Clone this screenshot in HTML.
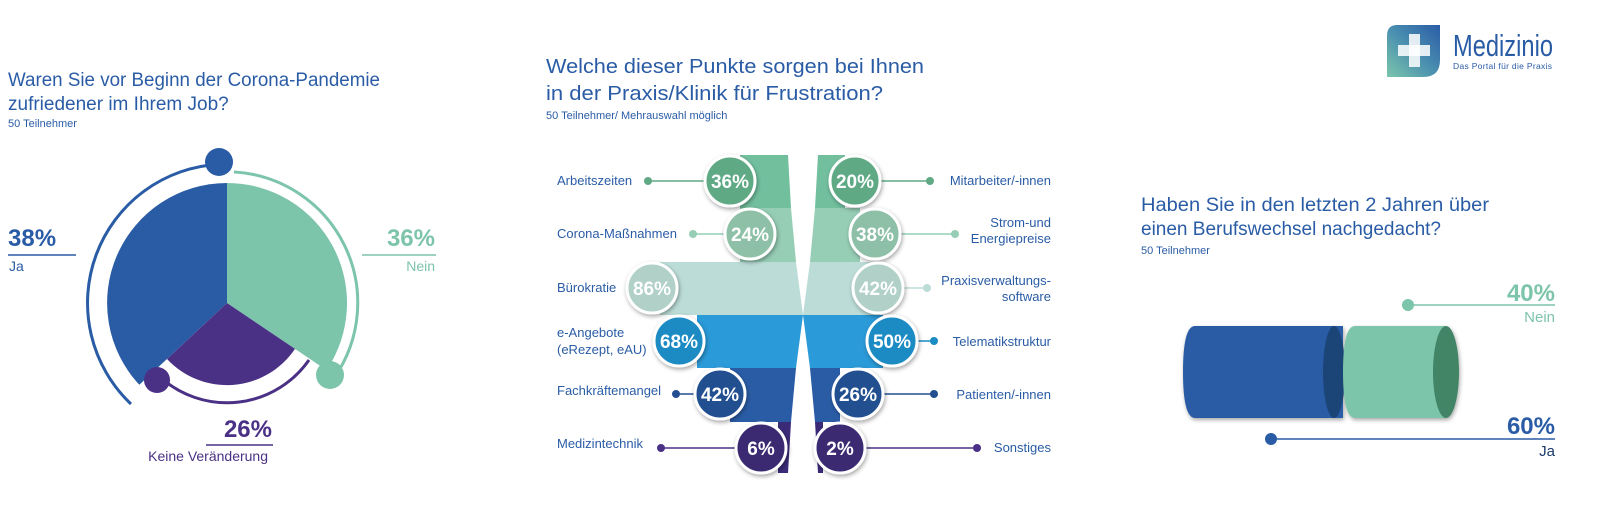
<!DOCTYPE html>
<html><head><meta charset="utf-8"><style>
html,body{margin:0;padding:0;background:#fff;}
svg{display:block;font-family:"Liberation Sans",sans-serif;}
</style></head><body>
<svg width="1600" height="528" viewBox="0 0 1600 528" xmlns="http://www.w3.org/2000/svg">
<defs>
<filter id="sh" x="-30%" y="-30%" width="160%" height="160%"><feDropShadow dx="1" dy="2" stdDeviation="2" flood-opacity="0.35"/></filter>
<linearGradient id="logo" x1="0" y1="1" x2="1" y2="0"><stop offset="0" stop-color="#7cc6ab"/><stop offset="0.5" stop-color="#4a8fb0"/><stop offset="1" stop-color="#2a5ca6"/></linearGradient>
</defs>
<rect width="1600" height="528" fill="#fff"/>

<!-- LEFT CHART -->
<text x="8" y="86" font-size="19" fill="#2a5ca6" textLength="372" lengthAdjust="spacingAndGlyphs">Waren Sie vor Beginn der Corona-Pandemie</text>
<text x="8" y="110" font-size="19" fill="#2a5ca6">zufriedener im Ihrem Job?</text>
<text x="8" y="127" font-size="11" fill="#2a5ca6">50 Teilnehmer</text>

<path d="M227 303 L227 183 A120 120 0 0 0 139.3 384.8 Z" fill="#2a5ca6"/>
<path d="M227 303 L227 183 A120 120 0 0 1 326.5 370.1 Z" fill="#7cc4aa"/>
<path d="M227 303 L295 348.9 A82 82 0 0 1 167 359 Z" fill="#4a3186"/>

<path d="M219.7 164.2 A139 139 0 0 0 131 404" fill="none" stroke="#2a5ca6" stroke-width="3"/>
<path d="M234 172 A131 131 0 0 1 334 378" fill="none" stroke="#7cc4aa" stroke-width="3"/>
<path d="M309 360 A100 100 0 0 1 160 377" fill="none" stroke="#4a3186" stroke-width="3"/>
<circle cx="219" cy="162" r="14" fill="#2a5ca6"/>
<circle cx="330" cy="375" r="14" fill="#7cc4aa"/>
<circle cx="157" cy="380" r="13" fill="#4a3186"/>

<text x="8" y="246" font-size="24" font-weight="bold" fill="#2a5ca6">38%</text>
<line x1="8" y1="255" x2="76" y2="255" stroke="#2a5ca6" stroke-width="1.5"/>
<text x="9" y="271" font-size="14" fill="#2a5ca6">Ja</text>
<text x="435" y="246" font-size="24" font-weight="bold" fill="#7cc4aa" text-anchor="end">36%</text>
<line x1="362" y1="255" x2="436" y2="255" stroke="#7cc4aa" stroke-width="1.5"/>
<text x="435" y="271" font-size="14" fill="#7cc4aa" text-anchor="end">Nein</text>
<text x="272" y="437" font-size="24" font-weight="bold" fill="#4a3186" text-anchor="end">26%</text>
<line x1="206" y1="445" x2="273" y2="445" stroke="#4a3186" stroke-width="1.5"/>
<text x="268" y="461" font-size="14" fill="#4a3186" text-anchor="end">Keine Veränderung</text>

<!-- MIDDLE CHART -->
<text x="546" y="73" font-size="20" fill="#2a5ca6" textLength="378" lengthAdjust="spacingAndGlyphs">Welche dieser Punkte sorgen bei Ihnen</text>
<text x="546" y="100" font-size="20" fill="#2a5ca6" textLength="337" lengthAdjust="spacingAndGlyphs">in der Praxis/Klinik für Frustration?</text>
<text x="546" y="119" font-size="11" fill="#2a5ca6">50 Teilnehmer/ Mehrauswahl möglich</text>

<!-- left bars -->
<polygon points="740,155 788,155 791,208 740,208" fill="#72bf9e"/>
<polygon points="740,208 791,208 796,262 740,262" fill="#96cdb5"/>
<polygon points="660,262 796,262 803,315 660,315" fill="#bcdcd8"/>
<polygon points="697,315 803,315 796,368 697,368" fill="#2a9ad8"/>
<polygon points="730,368 796,368 791,422 730,422" fill="#2a5ca6"/>
<polygon points="778,422 791,422 788,473 778,473" fill="#3b2a78"/>
<!-- right bars -->
<polygon points="818,155 845,155 845,208 815,208" fill="#72bf9e"/>
<polygon points="815,208 860,208 860,262 810,262" fill="#96cdb5"/>
<polygon points="810,262 880,262 880,315 803,315" fill="#bcdcd8"/>
<polygon points="803,315 883,315 883,368 810,368" fill="#2a9ad8"/>
<polygon points="810,368 840,368 840,422 815,422" fill="#2a5ca6"/>
<polygon points="815,422 823,422 823,473 818,473" fill="#3b2a78"/>

<g font-size="13" fill="#2a5ca6">
<text x="557" y="185">Arbeitszeiten</text>
<text x="557" y="238">Corona-Maßnahmen</text>
<text x="557" y="292">Bürokratie</text>
<text x="557" y="337">e-Angebote</text>
<text x="557" y="354">(eRezept, eAU)</text>
<text x="557" y="395">Fachkräftemangel</text>
<text x="557" y="448">Medizintechnik</text>
<text x="1051" y="185" text-anchor="end">Mitarbeiter/-innen</text>
<text x="1051" y="227" text-anchor="end">Strom-und</text>
<text x="1051" y="243" text-anchor="end">Energiepreise</text>
<text x="1051" y="285" text-anchor="end">Praxisverwaltungs-</text>
<text x="1051" y="301" text-anchor="end">software</text>
<text x="1051" y="346" text-anchor="end">Telematikstruktur</text>
<text x="1051" y="399" text-anchor="end">Patienten/-innen</text>
<text x="1051" y="452" text-anchor="end">Sonstiges</text>
</g>
<!-- connector lines & dots -->
<g stroke-width="1.5">
<line x1="648" y1="181" x2="730" y2="181" stroke="#5fa985"/><circle cx="648" cy="181" r="4" fill="#5fa985"/>
<line x1="693" y1="234" x2="750" y2="234" stroke="#96cdb5"/><circle cx="693" cy="234" r="4" fill="#96cdb5"/>
<line x1="676" y1="394" x2="720" y2="394" stroke="#234f90"/><circle cx="676" cy="394" r="4" fill="#234f90"/>
<line x1="661" y1="448" x2="761" y2="448" stroke="#4a3186"/><circle cx="661" cy="448" r="4" fill="#4a3186"/>
<line x1="855" y1="181" x2="930" y2="181" stroke="#5fa985"/><circle cx="930" cy="181" r="4" fill="#5fa985"/>
<line x1="875" y1="234" x2="955" y2="234" stroke="#96cdb5"/><circle cx="955" cy="234" r="4" fill="#96cdb5"/>
<line x1="878" y1="288" x2="927" y2="288" stroke="#bcdcd8"/><circle cx="927" cy="288" r="4" fill="#bcdcd8"/>
<line x1="892" y1="341" x2="934" y2="341" stroke="#1a8bc4"/><circle cx="934" cy="341" r="4" fill="#1a8bc4"/>
<line x1="858" y1="394" x2="934" y2="394" stroke="#234f90"/><circle cx="934" cy="394" r="4" fill="#234f90"/>
<line x1="840" y1="448" x2="977" y2="448" stroke="#4a3186"/><circle cx="977" cy="448" r="4" fill="#4a3186"/>
</g>
<g filter="url(#sh)" stroke="#fff" stroke-width="3">
<circle cx="730" cy="181" r="25" fill="#5fa985"/>
<circle cx="750" cy="234" r="25" fill="#8ec0a8"/>
<circle cx="652" cy="288" r="25" fill="#b0d0c8"/>
<circle cx="679" cy="341" r="25" fill="#1a8bc4"/>
<circle cx="720" cy="394" r="25" fill="#234f90"/>
<circle cx="761" cy="448" r="25" fill="#3a2c72"/>
<circle cx="855" cy="181" r="25" fill="#5fa985"/>
<circle cx="875" cy="234" r="25" fill="#8ec0a8"/>
<circle cx="878" cy="288" r="25" fill="#b0d0c8"/>
<circle cx="892" cy="341" r="25" fill="#1a8bc4"/>
<circle cx="858" cy="394" r="25" fill="#234f90"/>
<circle cx="840" cy="448" r="25" fill="#3a2c72"/>
</g>
<g font-size="19" font-weight="bold" fill="#fff" text-anchor="middle">
<text x="730" y="188">36%</text><text x="750" y="241">24%</text><text x="652" y="295">86%</text>
<text x="679" y="348">68%</text><text x="720" y="401">42%</text><text x="761" y="455">6%</text>
<text x="855" y="188">20%</text><text x="875" y="241">38%</text><text x="878" y="295">42%</text>
<text x="892" y="348">50%</text><text x="858" y="401">26%</text><text x="840" y="455">2%</text>
</g>

<!-- RIGHT CHART -->
<path d="M1397 25 L1440 25 L1440 60 Q1440 77 1423 77 L1387 77 L1387 36 Q1387 25 1397 25 Z" fill="url(#logo)"/>
<rect x="1398" y="45" width="32" height="11" fill="#fff" opacity="0.85"/>
<rect x="1409" y="34" width="11" height="33" fill="#fff" opacity="0.85"/>
<text x="1453" y="56" font-size="31" fill="#2a5ca6" textLength="100" lengthAdjust="spacingAndGlyphs">Medizinio</text>
<text x="1453" y="69" font-size="8.5" fill="#2a5ca6" textLength="99" lengthAdjust="spacing">Das Portal für die Praxis</text>

<text x="1141" y="211" font-size="19" fill="#2a5ca6" textLength="348" lengthAdjust="spacingAndGlyphs">Haben Sie in den letzten 2 Jahren über</text>
<text x="1141" y="235" font-size="19" fill="#2a5ca6">einen Berufswechsel nachgedacht?</text>
<text x="1141" y="254" font-size="11" fill="#2a5ca6">50 Teilnehmer</text>

<g filter="url(#sh)">
<path d="M1195 326 L1343 326 L1343 418 L1195 418 Q1183 418 1183 372 Q1183 326 1195 326 Z" fill="#2a5ca6"/>
<ellipse cx="1334" cy="372" rx="11" ry="46" fill="#1a4477"/>
<path d="M1355 326 L1445 326 L1445 418 L1355 418 Q1343 418 1343 372 Q1343 326 1355 326 Z" fill="#7cc4aa"/>
<ellipse cx="1446" cy="372" rx="13" ry="46" fill="#438466"/>
</g>

<text x="1555" y="301" font-size="24" font-weight="bold" fill="#7cc4aa" text-anchor="end">40%</text>
<line x1="1408" y1="305" x2="1555" y2="305" stroke="#7cc4aa" stroke-width="1.5"/>
<circle cx="1408" cy="305" r="6" fill="#7cc4aa"/>
<text x="1555" y="322" font-size="15" fill="#7cc4aa" text-anchor="end">Nein</text>
<text x="1555" y="434" font-size="24" font-weight="bold" fill="#2a5ca6" text-anchor="end">60%</text>
<line x1="1271" y1="439" x2="1555" y2="439" stroke="#2a5ca6" stroke-width="1.5"/>
<circle cx="1271" cy="439" r="6" fill="#2a5ca6"/>
<text x="1555" y="456" font-size="15" fill="#1a3a6a" text-anchor="end">Ja</text>
</svg>
</body></html>
